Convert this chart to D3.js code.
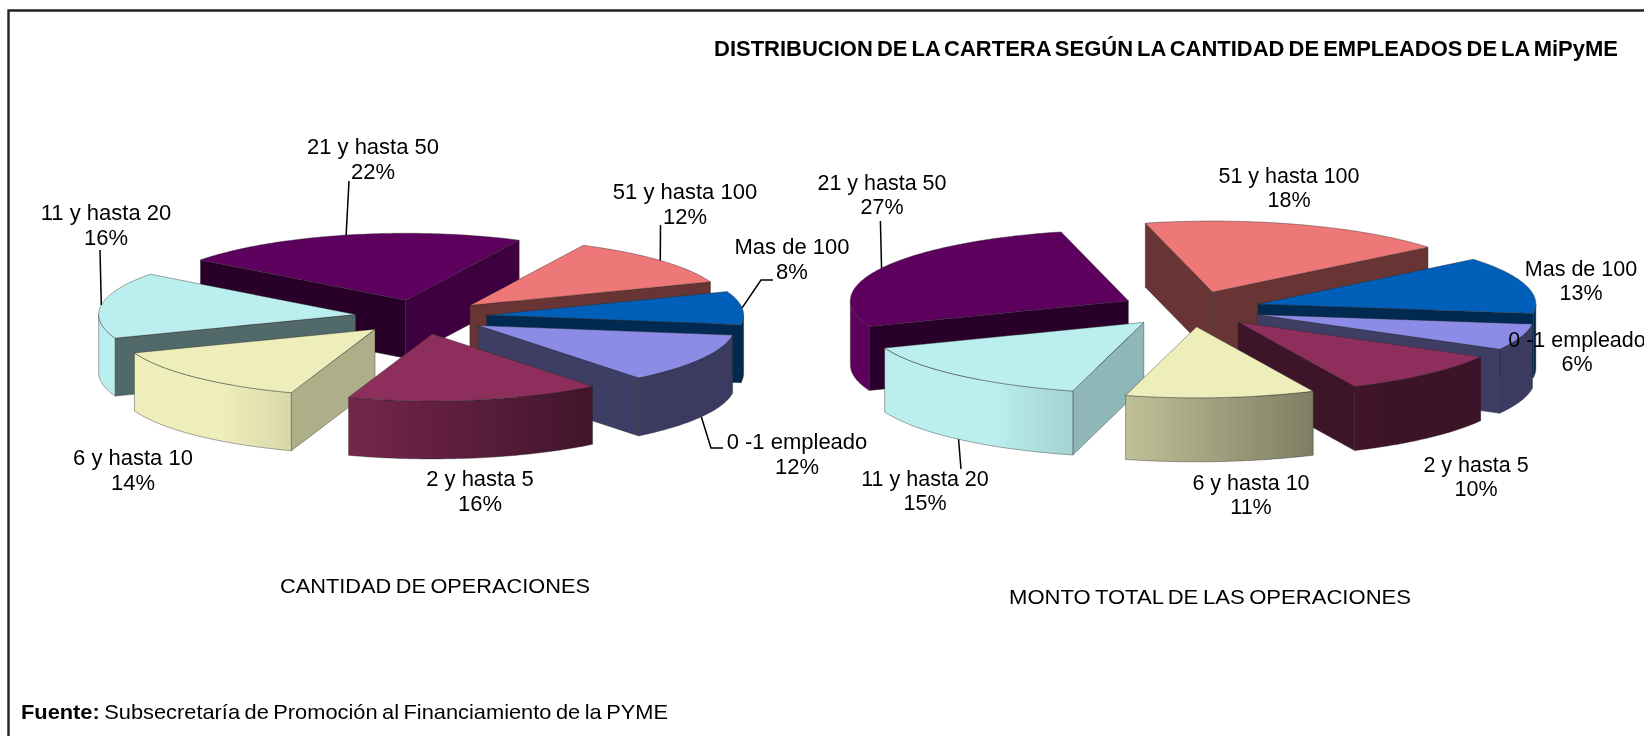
<!DOCTYPE html>
<html><head><meta charset="utf-8">
<style>html,body{margin:0;padding:0;background:#fff;overflow:hidden}svg{display:block;filter:blur(.45px)}text{font-family:"Liberation Sans",Arial,sans-serif;fill:#000}</style>
<script src="https://cdn.jsdelivr.net/npm/d3@7"></script>
</head><body>
<svg id="c" width="1644" height="736"></svg>
<script>
const categories = ["0 -1 empleado","2 y hasta 5","6 y hasta 10","11 y hasta 20","21 y hasta 50","51 y hasta 100","Mas de 100"];
const operaciones = [12,16,14,16,22,12,8];
const monto = [6,10,11,15,27,18,13];
const sliceColors = ["#8c8ce6","#8e2e5c","#eeeebb","#bbeeee","#5e005e","#ee7777","#005fb8"];

const titleText = "DISTRIBUCION DE LA CARTERA SEGÚN LA CANTIDAD DE EMPLEADOS DE LA MiPyME";
const captionLeft = "CANTIDAD DE OPERACIONES";
const captionRight = "MONTO TOTAL DE LAS OPERACIONES";

// geometry of each exploded pie
const pieLeft  = {cx:421, cy:317, R:257, ry:67, depth:58, explode:66, start:98.2, font:22, caption:captionLeft, capX:435, capY:593, capW:310, values:operaciones,
  labels:[[797,441],[480,478],[133,457],[106,212],[373,146],[685,191],[792,246]],
  elbows:[[[711,448],[723,448]],null,null,[[100,250]],[[349,181]],[[660.5,225]],[[761,280],[773,280]]]};
const pieRight = {cx:1190.5, cy:309, R:278, ry:71, depth:64, explode:70, start:97.6, font:21.5, caption:captionRight, capX:1210, capY:604, capW:402, values:monto,
  labels:[[1577,339],[1476,464],[1251,482],[925,478],[882,182],[1289,175],[1581,268]],
  elbows:[null,null,null,[[961,469]],[[880.4,221]],null,null]};

const svg = d3.select("#c"), defs = svg.append("defs");
const line = d3.line();
const rad = Math.PI/180;
const EDGE = "rgba(40,40,40,.5)";

function shadeTo(col,f){const c=d3.rgb(col);return d3.rgb(c.r*f,c.g*f,c.b*f).formatHex();}

function drawPie(P,pid){
  const arcs = d3.pie().sort(null).value(d=>d)
      .startAngle(P.start*rad).endAngle(P.start*rad+2*Math.PI)(P.values)
      .map((d,i)=>({...d,i,mid:(d.startAngle+d.endAngle)/2}));
  const ky = P.ry/P.R;
  arcs.forEach(d=>{
    d.ax = P.cx + P.explode*Math.sin(d.mid);
    d.ay = P.cy - P.explode*ky*Math.cos(d.mid);
    d.rim = (t,z=0)=>[d.ax+P.R*Math.sin(t), d.ay-P.ry*Math.cos(t)+z];
  });
  const samples=(a,b)=>{const n=Math.max(2,Math.ceil((b-a)/rad));return d3.range(n+1).map(k=>a+(b-a)*k/n);};
  const g = svg.append("g");
  // painter's order: back to front
  const order = arcs.slice().sort((p,q)=>d3.ascending(-Math.cos(p.mid),-Math.cos(q.mid)));
  order.forEach(d=>{
    const col = sliceColors[d.i], a=d.startAngle, b=d.endAngle;
    const grad = defs.append("linearGradient").attr("id",`g${pid}${d.i}`)
      .attr("gradientUnits","userSpaceOnUse").attr("x1",P.cx-197).attr("x2",P.cx+197).attr("y1",0).attr("y2",0);
    grad.append("stop").attr("offset",0).attr("stop-color",col);
    grad.append("stop").attr("offset",1).attr("stop-color",shadeTo(col,.42));
    const wallShade = n=>{const deg=((n/rad)%360+360)%360;return deg<=105?.77:deg>=140?.44:.77-.33*(deg-105)/35;};
    const wall=(t,n)=>{
      const c=d.rim(t);
      g.append("path").attr("d",line([[d.ax,d.ay],c,[c[0],c[1]+P.depth],[d.ax,d.ay+P.depth]])+"Z")
       .attr("fill",shadeTo(col,wallShade(n))).attr("stroke",EDGE).attr("stroke-width",.8).attr("stroke-linejoin","round");
    };
    if(Math.sin(a)<0) wall(a,a-Math.PI/2);
    if(Math.sin(b)>0) wall(b,b+Math.PI/2);
    [[90,270],[450,630]].forEach(([lo,hi])=>{
      const s=Math.max(a,lo*rad), e=Math.min(b,hi*rad);
      if(e<=s) return;
      const ts=samples(s,e);
      const pts=ts.map(t=>d.rim(t)).concat(ts.slice().reverse().map(t=>d.rim(t,P.depth)));
      g.append("path").attr("d",line(pts)+"Z").attr("fill",`url(#g${pid}${d.i})`)
       .attr("stroke",EDGE).attr("stroke-width",.8).attr("stroke-linejoin","round");
    });
    const top=[[d.ax,d.ay]].concat(samples(a,b).map(t=>d.rim(t)));
    g.append("path").attr("d",line(top)+"Z").attr("fill",col).attr("stroke",EDGE).attr("stroke-width",.8).attr("stroke-linejoin","round");
  });
  // leader lines
  arcs.forEach(d=>{
    const el=P.elbows[d.i]; if(!el) return;
    const front=-Math.cos(d.mid)>0;
    const s=d.rim(d.mid,front?P.depth:0);
    svg.append("path").attr("d",line([s,...el])).attr("fill","none").attr("stroke","#000").attr("stroke-width",1.5);
  });
  // labels
  arcs.forEach(d=>{
    const [x,y]=P.labels[d.i];
    const t=svg.append("text").attr("text-anchor","middle").attr("font-size",P.font);
    t.append("tspan").attr("x",x).attr("y",y+7.5).text(categories[d.i]);
    t.append("tspan").attr("x",x).attr("y",y+P.font+3+7.5).text(d.data+"%");
  });
  svg.append("text").attr("x",P.capX).attr("y",P.capY).attr("text-anchor","middle").attr("font-size",21)
     .attr("word-spacing",-1.5).attr("textLength",P.capW).attr("lengthAdjust","spacingAndGlyphs").text(P.caption);
}

// frame
svg.append("path").attr("d","M8.5,736V10.5H1644").attr("fill","none").attr("stroke","#222").attr("stroke-width",2.4);

drawPie(pieLeft,"L");
drawPie(pieRight,"R");

svg.append("text").attr("x",714).attr("y",56).attr("font-size",21.5).attr("font-weight","bold").attr("word-spacing",-2)
   .attr("textLength",904).attr("lengthAdjust","spacingAndGlyphs").text(titleText);

const foot=svg.append("text").attr("x",21).attr("y",719).attr("font-size",21).attr("word-spacing",-1.5)
   .attr("textLength",647).attr("lengthAdjust","spacingAndGlyphs");
foot.append("tspan").attr("font-weight","bold").text("Fuente:");
foot.append("tspan").text(" Subsecretaría de Promoción al Financiamiento de la PYME");
</script>
</body></html>
